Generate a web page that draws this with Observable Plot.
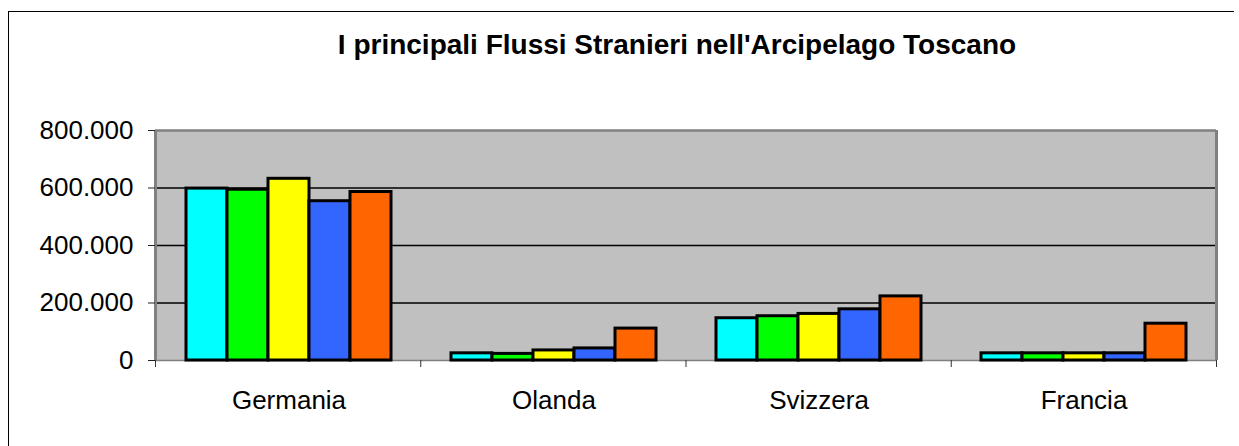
<!DOCTYPE html>
<html>
<head>
<meta charset="utf-8">
<script src="https://cdn.jsdelivr.net/npm/d3@7"></script>
<script src="https://cdn.jsdelivr.net/npm/@observablehq/plot@0.6"></script>
<style>
  body { margin: 0; background: #fff; font-family: Arial, "Liberation Sans", sans-serif; }
  #wrap { position: relative; width: 1239px; height: 446px; overflow: hidden; background: #fff; }
  #border { position: absolute; left: 8px; top: 11px; width: 1225px; height: 460px;
            border-left: 1.5px solid #000; border-top: 1.5px solid #000; }
  #title { position: absolute; left: 177px; top: 31px; width: 1000px; text-align: center;
           font-weight: bold; font-size: 28px; line-height: 28px; color: #000; }
  .layer { position: absolute; left: 0; top: 0; }
</style>
</head>
<body>
<div id="wrap">
  <div id="border"></div>
  <div id="title">I principali Flussi Stranieri nell'Arcipelago Toscano</div>
  <div id="bg" class="layer"></div>
  <div id="bars" class="layer"></div>
</div>
<script>
// ---- data ----
const categories = ["Germania", "Olanda", "Svizzera", "Francia"];
const series = ["Serie 1", "Serie 2", "Serie 3", "Serie 4", "Serie 5"];
const colors = ["#00FFFF", "#00FF00", "#FFFF00", "#3366FF", "#FF6600"];
const serie1 = [598000, 25000, 147000, 25000];
const serie2 = [594000, 23000, 154000, 25000];
const serie3 = [632000, 35000, 162000, 25000];
const serie4 = [554000, 42000, 178000, 25000];
const serie5 = [586000, 111000, 223000, 128000];
const yTicks = [0, 200000, 400000, 600000, 800000];

const values = [serie1, serie2, serie3, serie4, serie5];
const rows = [];
categories.forEach((c, ci) => series.forEach((s, si) => rows.push({cat: c, serie: s, value: values[si][ci]})));

const fmt = d3.formatLocale({decimal: ",", thousands: ".", grouping: [3], currency: ["", "€"]}).format(",");

const W = 1239, H = 446;
const margins = {marginLeft: 155, marginRight: 23, marginTop: 130, marginBottom: 86};
const font = "Arial, 'Liberation Sans', sans-serif";

// background layer: plot area, gridlines, y axis, category boundary ticks
const bg = Plot.plot({
  width: W, height: H, ...margins,
  x: {domain: [0, categories.length], axis: null},
  y: {domain: [0, 800000], axis: null},
  style: {background: "transparent", fontFamily: font, color: "#000", overflow: "visible"},
  marks: [
    Plot.frame({fill: "#C0C0C0"}),
    Plot.gridY(yTicks.slice(1, -1), {stroke: "#000", strokeOpacity: 1, strokeWidth: 1.3}),
    Plot.ruleY([0], {stroke: "#808080", strokeWidth: 1.5}),
    Plot.ruleY([800000], {stroke: "#808080", strokeWidth: 2.5}),
    Plot.ruleX([0, categories.length], {stroke: "#808080", strokeWidth: 3}),
    Plot.axisY(yTicks, {tickSize: 7, tickPadding: 15, tickFormat: fmt, fontSize: 26, stroke: "#222", label: null}),
    Plot.axisX(d3.range(categories.length + 1), {tickSize: 7, tickFormat: () => "", stroke: "#333", label: null})
  ]
});
document.getElementById("bg").appendChild(bg);

// bars layer
const bars = Plot.plot({
  width: W, height: H, ...margins,
  fx: {domain: categories, padding: 0, label: null},
  x: {domain: series, paddingInner: 0, paddingOuter: 0.72, axis: null},
  y: {domain: [0, 800000], axis: null},
  color: {domain: series, range: colors},
  style: {background: "transparent", fontFamily: font, color: "#000", overflow: "visible"},
  marks: [
    Plot.barY(rows, {fx: "cat", x: "serie", y: "value", fill: "serie", stroke: "#000", strokeWidth: 3, inset: 0}),
    Plot.axisFx({anchor: "bottom", tickSize: 0, tickPadding: 30, fontSize: 26, label: null})
  ]
});
document.getElementById("bars").appendChild(bars);
</script>
</body>
</html>
